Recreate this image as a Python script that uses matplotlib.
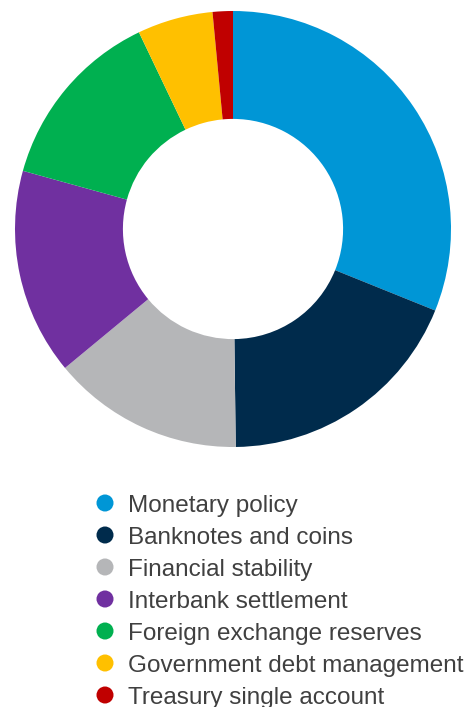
import matplotlib
matplotlib.use("Agg")
import matplotlib.pyplot as plt

# Share of each central-bank function (%)
categories = [
    "Monetary policy",
    "Banknotes and coins",
    "Financial stability",
    "Interbank settlement",
    "Foreign exchange reserves",
    "Government debt management",
    "Treasury single account",
]
shares = [31.1, 18.7, 14.2, 15.3, 13.6, 5.6, 1.5]
colors = ["#0096D6", "#002B4C", "#B5B6B8", "#7030A0", "#00B050", "#FFC000", "#C00000"]

W, H = 472, 707
fig = plt.figure(figsize=(W / 100, H / 100), dpi=100)

# Donut chart
cx, cy, r = 233, 229, 218
ax = fig.add_axes([(cx - r) / W, (H - cy - r) / H, 2 * r / W, 2 * r / H])
ax.pie(shares, colors=colors, startangle=90, counterclock=False, radius=1.0,
       wedgeprops=dict(width=0.495, linewidth=0, antialiased=True))
ax.set_xlim(-1, 1)
ax.set_ylim(-1, 1)
ax.set_aspect("equal")
ax.axis("off")

# Legend drawn in pixel coordinates below the donut
lax = fig.add_axes([0, 0, 1, 1])
lax.set_xlim(0, W)
lax.set_ylim(H, 0)
lax.axis("off")
row0, step = 503.0, 32.0
for i, (name, col) in enumerate(zip(categories, colors)):
    y = row0 + step * i
    lax.scatter([105], [y], s=150, color=col, edgecolors="none")
    lax.text(128, y + 8.7, name, fontsize=17.45, color="#404040",
             family="Liberation Sans", va="baseline", ha="left")

fig.savefig("out.png", dpi=100)
